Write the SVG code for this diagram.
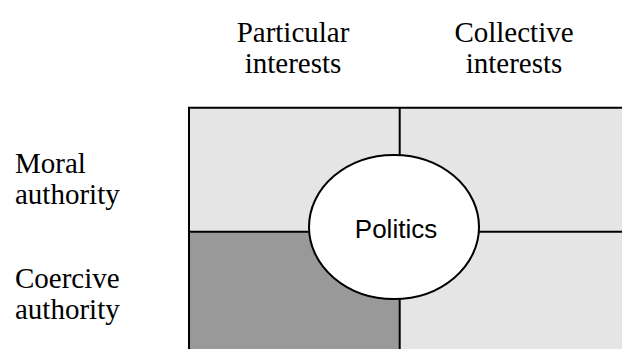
<svg xmlns="http://www.w3.org/2000/svg" width="622" height="349" viewBox="0 0 622 349">
  <style>
    .lbl { font-family: "Liberation Serif", "Times New Roman", serif; font-size: 29px; fill: #000; }
    .mid { text-anchor: middle; }
    .light { fill: #e5e5e5; }
    .dark { fill: #999999; }
    .line { stroke: #000; stroke-width: 2; fill: none; }
    .node-text { font-family: "Liberation Sans", Arial, sans-serif; font-size: 26px; fill: #000; text-anchor: middle; }
  </style>
  <rect x="0" y="0" width="622" height="349" fill="#ffffff"/>

  <g id="quadrant-top-left"><rect class="light" x="189" y="108" width="211" height="124"/></g>
  <g id="quadrant-top-right"><rect class="light" x="400" y="108" width="222" height="124"/></g>
  <g id="quadrant-bottom-left"><rect class="dark" x="189" y="232" width="211" height="117"/></g>
  <g id="quadrant-bottom-right"><rect class="light" x="400" y="232" width="222" height="117"/></g>

  <g id="connectors">
    <line class="line" x1="188" y1="107.7" x2="622" y2="107.7"/>
    <line class="line" x1="189" y1="107" x2="189" y2="349"/>
    <line class="line" x1="399.7" y1="108" x2="399.7" y2="349"/>
    <line class="line" x1="189" y1="231.8" x2="622" y2="231.8"/>
  </g>

  <g id="politics">
    <ellipse cx="394" cy="227" rx="85" ry="72" fill="#ffffff" stroke="#000" stroke-width="2"/>
    <text class="node-text" x="396" y="238">Politics</text>
  </g>

  <g id="label-particular">
    <text class="lbl mid" x="293" y="41.7">Particular</text>
    <text class="lbl mid" x="293" y="73">interests</text>
  </g>
  <g id="label-collective">
    <text class="lbl mid" x="514" y="41.7">Collective</text>
    <text class="lbl mid" x="514" y="73">interests</text>
  </g>
  <g id="label-moral">
    <text class="lbl" x="15" y="173.3">Moral</text>
    <text class="lbl" x="15" y="203.5">authority</text>
  </g>
  <g id="label-coercive">
    <text class="lbl" x="15" y="288.3">Coercive</text>
    <text class="lbl" x="15" y="318.5">authority</text>
  </g>
</svg>
